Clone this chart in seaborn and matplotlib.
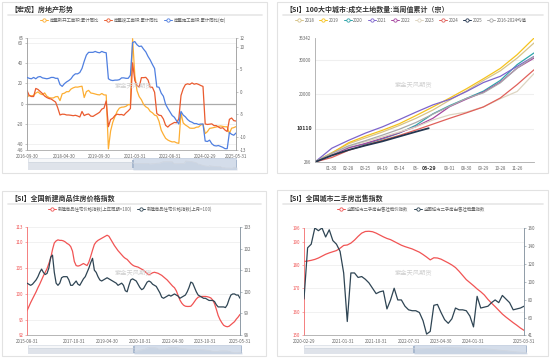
import numpy as np
import pandas as pd
import matplotlib
matplotlib.use("Agg")
import matplotlib.pyplot as plt
import seaborn as sns
from matplotlib.lines import Line2D
from matplotlib.patches import Rectangle

sns.set_theme(style="white")
plt.rcParams['font.family'] = ['Noto Sans CJK SC', 'DejaVu Sans']
plt.rcParams['axes.unicode_minus'] = False

# ---------------- data ----------------
# Panel 1 (monthly, Januaries omitted)
p1_months = [d for d in pd.date_range('2016-09-30', '2025-05-31', freq='ME') if d.month != 1]
p1_labels = ['2016-09-30', '2018-04-30', '2019-09-30', '2021-03-31', '2022-08-31', '2024-02-29', '2025-05-31']
p1_newstart = [6.4, 8.1, 7.6, 8.1,
               10.4, 11.6, 9.7, 8.8, 10.6, 7.4, 6.0, 5.5, 5.6, 6.8, 7.0,
               2.9, 9.7, 10.3, 11.8, 11.8, 14.4, 15.6, 16.4, 16.3, 16.8, 17.2,
               6.0, 11.9, 13.1, 10.5, 10.1, 9.5, 8.9, 8.6, 10.0, 8.6, 8.5,
               -44.9, -27.2, -18.4, -12.8, -7.6, -4.5, -3.6, -3.4, -2.7, -1.0, -1.2,
               64.3, 28.2, 12.8, 6.9, 3.8, -0.9, -3.2, -4.5, -7.7, -9.1, -11.4,
               -12.2, -17.5, -26.3, -30.6, -34.4, -36.1, -37.2, -38.0, -37.8, -38.9, -39.4,
               -9.4, -19.2, -21.2, -22.6, -24.3, -24.5, -24.4, -23.4, -23.2, -21.2, -20.4,
               -29.7, -27.8, -24.6, -24.2, -23.7, -23.2, -22.5, -22.2, -22.6, -23.0, -23.0,
               -29.6, -24.4, -23.8, -22.8]
p1_complete = [13, 8, 7, 7,
               15, 14, 12, 10, 7.5, 6, 5, 4.5, 3, 1.5, -4.4,
               -11.3, -10.5, -10.6, -11.3, -11.3, -11.6, -12.0, -11.6, -12.3, -13.3, -7.8,
               -11.9, -10.8, -10.3, -12.4, -12.7, -11.3, -10.0, -8.6, -5.5, -4.5, 2.6,
               -22.9, -15.8, -14.5, -11.8, -10.5, -11.0, -10.8, -11.6, -9.2, -7.3, -4.9,
               40.4, 22.9, 17.9, 16.4, 25.7, 25.7, 26.0, 23.4, 16.3, 16.2, 11.2,
               -9.8, -11.5, -11.9, -15.3, -21.5, -23.3, -21.1, -19.9, -18.7, -19.0, -15.0,
               8.0, 14.7, 18.8, 19.6, 19.0, 20.5, 19.2, 19.8, 19.0, 17.9, 17.0,
               -20.2, -20.7, -20.4, -20.1, -21.8, -21.8, -23.2, -24.4, -23.9, -26.2, -27.7,
               -15.6, -14.3, -16.9, -17.3]
p1_construct = [3.2, 3.0, 2.9, 3.2,
                2.9, 3.3, 3.4, 3.1, 3.0, 2.9, 3.0, 3.2, 3.2, 3.0, 3.0,
                1.6, 1.2, 1.8, 2.2, 2.5, 2.9, 3.6, 4.0, 4.0, 4.3, 5.2,
                6.8, 8.2, 8.8, 8.8, 8.8, 9.0, 8.8, 8.7, 9.0, 8.8, 8.7,
                2.9, 2.6, 2.5, 2.6, 2.6, 2.7, 3.1, 3.1, 3.0, 3.0, 3.7,
                11.0, 11.2, 10.5, 10.1, 10.2, 9.5, 8.9, 7.9, 7.1, 6.1, 5.2,
                1.1, 1.0, -0.3, -1.0, -2.8, -3.7, -4.5, -5.3, -5.7, -6.5, -7.2,
                -4.4, -5.2, -5.6, -6.2, -6.6, -6.8, -7.1, -7.1, -7.3, -7.2, -7.2,
                -11.0, -11.1, -10.8, -11.6, -12.0, -12.1, -12.0, -12.2, -12.4, -12.7, -12.7,
                -9.1, -9.5, -9.7, -9.2]

# Panel 2 (cumulative land deals, sampled every 4 weeks)
p2_weeks = [0, 4, 8, 12, 16, 20, 24, 28, 32, 36, 40, 44, 48, 52]
p2_weeks_2025 = [0, 4, 8, 12, 16, 20, 24, 27]
p2_years = ['2018', '2019', '2020', '2021', '2022', '2023', '2024', '2025', '2016-2024均值']
p2_2018 = [400, 3000, 5600, 7300, 9000, 10900, 13000, 15400, 18300, 21000, 24000, 26800, 30500, 34900]
p2_2019 = [300, 2900, 5900, 7800, 9500, 11400, 13800, 16300, 18900, 21600, 24500, 27500, 31500, 36300]
p2_2020 = [300, 2500, 4600, 5500, 7000, 8700, 11000, 14300, 16700, 18800, 20900, 24000, 28600, 32000]
p2_2021 = [300, 4300, 6600, 8700, 10500, 12600, 14800, 16900, 18500, 20800, 23400, 25200, 28100, 31000]
p2_2022 = [300, 2400, 4400, 5700, 7200, 8800, 10600, 13000, 16400, 18600, 20600, 23500, 27600, 30500]
p2_2023 = [400, 2600, 4800, 6200, 7600, 9000, 10500, 12500, 14000, 14800, 16300, 18700, 20800, 26000]
p2_2024 = [286, 1600, 3700, 5200, 6600, 8000, 9600, 11300, 13000, 14600, 16300, 18900, 22800, 27100]
p2_2025 = [286, 2200, 3800, 5100, 6300, 7700, 9100, 10110]
p2_avg = [350, 2800, 5000, 6500, 8100, 9800, 11800, 14200, 16500, 18800, 20400, 23300, 27600, 30900]
p2_xticks = [4, 8, 12, 16, 20, 24, 32, 36, 40, 44, 48]
p2_xlabels = ['01-30', '02-28', '03-25', '04-19', '05-14', '06-', '08-01', '08-30', '09-29', '10-28', '11-26']

# Panel 3 (monthly)
p3_months = pd.date_range('2015-08-31', '2025-05-31', freq='ME')
p3_labels = ['2015-08-31', '2017-10-31', '2019-04-30', '2020-10-31', '2022-04-30', '2023-10-31', '2025-05-31']
p3_yoy = [96.7, 97.5, 98.3, 99.0, 99.7, 100.4, 101.2, 101.9, 102.7, 103.5,
          104.2, 104.9, 105.9, 106.9, 108.6, 109.9, 110.3, 110.5, 110.4, 110.4,
          110.3, 110.1, 109.8, 109.6, 109.2, 108.3, 106.3, 105.5, 105.4, 105.5,
          105.7, 105.9, 105.7, 105.5, 106.2, 107.3, 108.5, 109.6, 110.1, 110.4,
          110.6, 110.8, 111.0, 111.2, 111.4, 111.2, 110.6, 110.0, 109.4, 108.9,
          108.4, 108.0, 107.6, 107.2, 106.9, 106.7, 106.3, 105.9, 105.6, 105.4,
          105.3, 105.2, 105.0, 104.8, 104.6, 104.3, 103.9, 103.7, 103.9, 104.1,
          104.2, 104.1, 104.0, 103.8, 103.6, 103.3, 103.0, 102.7, 102.3, 101.9,
          101.5, 101.2, 100.6, 99.7, 98.8, 98.2, 97.8, 97.6, 97.55, 97.55,
          97.6, 98.0, 98.5, 99.0, 99.35, 99.45, 99.5, 99.5, 99.5, 99.45,
          99.35, 99.2, 98.8, 98.1, 97.0, 95.8, 95.0, 94.4, 93.9, 93.7,
          93.6, 93.7, 94.0, 94.3, 94.6, 95.1, 95.5, 96.0]
p3_mom = [100.4, 100.35, 100.3, 100.35, 100.45, 100.55, 100.7, 100.9, 101.05, 100.9,
          100.8, 100.85, 101.1, 101.6, 101.7, 100.9, 100.4, 100.3, 100.4, 100.65,
          100.7, 100.7, 100.7, 100.55, 100.3, 100.3, 100.4, 100.5, 100.35, 100.3,
          100.45, 100.6, 100.7, 100.9, 101.1, 101.35, 101.55, 101.0, 100.9, 100.7,
          100.55, 100.5, 100.55, 100.6, 100.65, 100.6, 100.55, 100.5, 100.45, 100.4,
          100.3, 100.35, 100.4, 100.3, 100.05, 100.0, 100.3, 100.55, 100.6, 100.55,
          100.5, 100.35, 100.2, 100.1, 100.15, 100.3, 100.45, 100.5, 100.45, 100.35,
          100.3, 100.25, 100.1, 99.95, 99.75, 99.7, 99.75, 99.8, 99.85, 99.8,
          99.85, 99.9, 99.85, 99.8, 99.7, 99.75, 99.8, 99.85, 100.0, 100.2,
          100.45, 100.4, 100.2, 100.0, 99.85, 99.8, 99.75, 99.7, 99.7, 99.65,
          99.6, 99.6, 99.6, 99.55, 99.4, 99.3, 99.3, 99.3, 99.3, 99.27,
          99.4, 99.65, 99.85, 99.9, 99.9, 99.85, 99.85, 99.7]

# Panel 4 (monthly)
p4_months = pd.date_range('2020-02-29', '2025-03-31', freq='ME')
p4_labels = ['2020-02-29', '2021-01-31', '2021-10-31', '2022-07-31', '2023-04-30', '2024-01-31', '2025-03-31']
p4_price = [181.6, 181.8, 182.1, 182.5, 183.1, 183.9, 184.7, 185.3, 185.8, 186.3,
            187.3, 188.5, 188.7, 189.5, 190.8, 192.4, 193.8, 194.5, 194.6, 194.4,
            193.8, 193.0, 192.2, 191.5, 191.0, 190.2, 189.4, 188.6, 188.0, 187.5,
            187.0, 186.3, 185.6, 184.6, 183.5, 182.3, 183.2, 183.1, 182.6, 181.8,
            181.0, 180.1, 179.0, 177.4, 175.6, 173.8, 172.5, 171.2, 169.8, 168.6,
            167.2, 165.3, 163.7, 162.2, 160.6, 159.0, 157.7, 156.5, 155.3, 154.2,
            153.0, 152.0]
p4_volume = [81, 138, 142, 160, 157, 160, 150, 158, 146, 142,
             134, 110, 56, 110, 110, 105, 106, 103, 99, 93,
             87, 89, 90, 70, 80, 93, 80, 80, 73, 69,
             68, 68, 66, 57, 42, 45, 74, 75, 66, 58,
             54, 59, 71, 69, 69, 68, 62, 50, 84, 71,
             72, 73, 77, 80, 77, 85, 81, 77, 69, 70,
             71, 73]

# ---------------- layout helpers ----------------
W, H = 550, 358
fig = plt.figure(figsize=(5.5, 3.58), dpi=100)
fig.patch.set_facecolor('white')


def R(x0, y0, x1, y1):
    return [x0 / W, 1 - y1 / H, (x1 - x0) / W, (y1 - y0) / H]


def ftext(x, y, s, **kw):
    fig.text(x / W, 1 - y / H, s, **kw)


def card(x0, y0, x1, y1, title, ty, uy):
    fig.add_artist(Rectangle((x0 / W, 1 - y1 / H), (x1 - x0) / W, (y1 - y0) / H,
                             transform=fig.transFigure, fc='white', ec='#e2e2e2', lw=0.8, zorder=0))
    ftext(x0 + 8, ty, title, fontsize=5, fontweight='bold', color='#333333', va='center', ha='left')
    fig.add_artist(Line2D([(x0 + 6) / W, (x1 - 5) / W], [1 - uy / H] * 2, transform=fig.transFigure,
                          color='#e6e6e6', lw=1.2))


def legend(cx, cy, colors, labels, spacing=1.2):
    handles = [Line2D([], [], color=c, lw=0.7, marker='o', ms=2.4, mfc='white', mew=0.6) for c in colors]
    fig.legend(handles, labels, loc='center', bbox_to_anchor=(cx / W, 1 - cy / H), ncol=len(labels),
               frameon=False, fontsize=3.2, handlelength=1.8, handletextpad=0.4, columnspacing=spacing,
               labelcolor='#666666')


def style_axis(ax, ax2, lcol='#999999', rcol='#999999', lab_l='#666666', lab_r='#666666'):
    for a in (ax, ax2):
        a.patch.set_alpha(0)
        a.spines['top'].set_visible(False)
    ax.spines['right'].set_visible(False)
    ax2.spines['left'].set_visible(False)
    ax2.spines['bottom'].set_visible(False)
    ax.spines['left'].set_color(lcol)
    ax.spines['left'].set_linewidth(0.6)
    ax.spines['bottom'].set_color('#aaaaaa')
    ax.spines['bottom'].set_linewidth(0.6)
    ax2.spines['right'].set_color(rcol)
    ax2.spines['right'].set_linewidth(0.6)
    ax.tick_params(axis='y', labelsize=3.2, colors=lcol, labelcolor=lab_l, length=1.5, width=0.4, pad=1.2)
    ax2.tick_params(axis='y', labelsize=3.2, colors=rcol, labelcolor=lab_r, length=1.5, width=0.4, pad=1.2)
    ax.tick_params(axis='x', labelsize=3.2, colors='#aaaaaa', labelcolor='#666666', length=1.5, width=0.4, pad=1.5)
    ax.grid(axis='y', color='#efefef', lw=0.6)
    ax.set_xlabel('')
    ax.set_ylabel('')
    ax2.set_xlabel('')
    ax2.set_ylabel('')


def slider(x0, y0, x1, y1, sel0, series):
    sa = fig.add_axes(R(x0, y0, x1, y1))
    sa.set_axis_off()
    sa.add_patch(Rectangle((0, 0), 1, 1, transform=sa.transAxes, fc='#f6f7f9', ec='#d6dbe3', lw=0.5))
    n = len(series)
    frac = (sel0 - x0) / (x1 - x0)
    left = -(n - 1) * frac / (1 - frac)
    s = np.asarray(series, float)
    lo, hi = s.min(), s.max()
    norm = 0.15 + 0.6 * (s - lo) / (hi - lo)
    sa.fill_between(np.arange(n), 0, norm, color='#dfe3ea', lw=0)
    sa.plot(np.arange(n), norm, color='#cdd3dc', lw=0.4)
    sa.fill_between([left, 0], 0, 0.7, color='#dfe3ea', lw=0)
    sa.plot([left, 0], [0.7, 0.7], color='#cdd3dc', lw=0.4)
    sa.set_xlim(left, n - 1)
    sa.set_ylim(0, 1)
    sa.add_patch(Rectangle((0, 0), n - 1, 1, fc='#b8c8de', alpha=0.55, lw=0))
    for xx in (0, n - 1):
        sa.add_patch(Rectangle((xx - (n - 1) * 0.012, 0.15), (n - 1) * 0.024, 0.7, fc='#a9b9cf', lw=0))


# ---------------- Panel 1 ----------------
card(2, 2, 267, 173, '【宏观】房地产形势', 9, 15)
c_or, c_rd, c_bl = '#fdae33', '#ea5b2f', '#4f7fe0'
legend(133, 20, [c_or, c_rd, c_bl], ['房屋新开工面积:累计同比', '房屋竣工面积:累计同比', '房屋施工面积:累计同比(右)'])
ax = fig.add_axes(R(27, 38, 236, 150))
ax2 = ax.twinx()
x1 = np.arange(len(p1_months))
sns.lineplot(x=x1, y=p1_newstart, ax=ax, color=c_or, lw=0.9)
sns.lineplot(x=x1, y=p1_complete, ax=ax, color=c_rd, lw=0.9)
sns.lineplot(x=x1, y=p1_construct, ax=ax2, color=c_bl, lw=0.9)
ax.set_ylim(-46, 65)
ax2.set_ylim(-13, 12)
ax.set_xlim(0, len(x1) - 1)
ax.set_yticks([-46, -40, -20, 0, 20, 40, 60, 65])
ax2.set_yticks([-13, -10, -5, 0, 5, 10, 12])
mstr = [d.strftime('%Y-%m-%d') for d in p1_months]
ax.set_xticks([mstr.index(l) for l in p1_labels])
ax.set_xticklabels(p1_labels)
style_axis(ax, ax2)
ax.axhline(0, color='#aaaaaa', lw=0.9, zorder=1)
ftext(133, 85, '紫金天风期货', fontsize=4.5, color='#d0d0d0', ha='center', va='center')
slider(28, 158, 237, 170, 133, p1_construct)

# ---------------- Panel 2 ----------------
card(277, 2, 548, 173, '【SI】100大中城市:成交土地数量:当周值累计（宗）', 9, 15)
p2_colors = ['#d6c48a', '#f6c31c', '#2fa5aa', '#7d64cc', '#a5459f', '#ddd5c2', '#e0605a', '#243650', '#a9a9a9']
legend(411, 20, p2_colors, p2_years, spacing=1.0)
bx = fig.add_axes(R(315, 38, 534, 162))
bx.patch.set_alpha(0)
series2 = [p2_2018, p2_2019, p2_2020, p2_2021, p2_2022, p2_2023, p2_2024, None, p2_avg]
for yr, col, s in zip(p2_years, p2_colors, series2):
    if s is None:
        continue
    sns.lineplot(x=p2_weeks, y=s, ax=bx, color=col, lw=0.9)
sns.lineplot(x=p2_weeks_2025, y=p2_2025, ax=bx, color=p2_colors[7], lw=1.3)
bx.set_xlim(0, 52)
bx.set_ylim(286, 36342)
bx.set_yticks([286, 20000, 30000, 36342])
bx.set_yticklabels(['286', '20000', '30000', '36342'])
bx.set_xticks(p2_xticks)
bx.set_xticklabels(p2_xlabels)
for v in (10000, 20000, 30000):
    bx.axhline(v, color='#efefef', lw=0.8, zorder=0)
for sp in ('top', 'right'):
    bx.spines[sp].set_visible(False)
for sp in ('left', 'bottom'):
    bx.spines[sp].set_color('#aaaaaa')
    bx.spines[sp].set_linewidth(0.6)
bx.tick_params(labelsize=3.2, colors='#aaaaaa', labelcolor='#666666', length=1.5, width=0.4, pad=1.5)
bx.set_xlabel('')
bx.set_ylabel('')
bx.text(-0.012, 10110, '10110', transform=bx.get_yaxis_transform(), ha='right', va='center',
        fontsize=3.8, fontweight='bold', color='#333333',
        bbox=dict(boxstyle='square,pad=0.15', fc='white', ec='none'))
bx.text(27, -0.03, '06-29', transform=bx.get_xaxis_transform(), ha='center', va='top',
        fontsize=3.8, fontweight='bold', color='#333333',
        bbox=dict(boxstyle='square,pad=0.15', fc='white', ec='none'))
ftext(413, 84, '紫金天风期货', fontsize=4.5, color='#d0d0d0', ha='center', va='center')

# ---------------- Panel 3 ----------------
card(2, 191, 266, 356, '【SI】全国新建商品住房价格指数', 198, 204)
c_r, c_d = '#f15454', '#2f4554'
legend(130, 209, [c_r, c_d], ['新建商品住宅价格指数(上年同期=100)', '新建商品住宅价格指数(上月=100)'])
cx = fig.add_axes(R(27, 227, 240, 335))
cx2 = cx.twinx()
x3 = np.arange(len(p3_months))
sns.lineplot(x=x3, y=p3_yoy, ax=cx, color=c_r, lw=0.9)
sns.lineplot(x=x3, y=p3_mom, ax=cx2, color=c_d, lw=0.9)
cx.set_ylim(92, 113)
cx2.set_ylim(98, 103)
cx.set_yticks([92, 95, 100, 105, 110, 113])
cx2.set_yticks([98, 99, 100, 101, 102, 103])
cx.set_xlim(0, len(x3) - 1)
m3 = [d.strftime('%Y-%m-%d') for d in p3_months]
cx.set_xticks([m3.index(l) for l in p3_labels])
cx.set_xticklabels(p3_labels)
style_axis(cx, cx2, lcol='#f26a6a', rcol='#7d8c99', lab_l='#f05050')
ftext(133, 272, '紫金天风期货', fontsize=4.5, color='#d0d0d0', ha='center', va='center')
slider(28, 345, 242, 354, 134, p3_yoy)

# ---------------- Panel 4 ----------------
card(277, 190, 548, 356, '【SI】全国城市二手房出售指数', 198, 204)
legend(411, 209, [c_r, c_d], ['全国城市二手房出售挂牌价指数', '全国城市二手房出售挂牌量指数'])
dx = fig.add_axes(R(304, 228, 524, 335))
dx2 = dx.twinx()
x4 = np.arange(len(p4_months))
sns.lineplot(x=x4, y=p4_price, ax=dx, color=c_r, lw=0.9)
sns.lineplot(x=x4, y=p4_volume, ax=dx2, color=c_d, lw=0.9)
dx.set_ylim(150, 196)
dx2.set_ylim(41, 160)
dx.set_yticks([150, 160, 170, 180, 190, 196])
dx2.set_yticks([41, 60, 80, 100, 120, 140, 160])
dx.set_xlim(0, len(x4) - 1)
m4 = [d.strftime('%Y-%m-%d') for d in p4_months]
dx.set_xticks([m4.index(l) for l in p4_labels])
dx.set_xticklabels(p4_labels)
style_axis(dx, dx2, lcol='#f26a6a', rcol='#7d8c99', lab_l='#f05050')
ftext(413, 272, '紫金天风期货', fontsize=4.5, color='#d0d0d0', ha='center', va='center')
slider(304, 345, 527, 354, 414, p4_price)

fig.savefig('out.png', dpi=100, facecolor='white')
